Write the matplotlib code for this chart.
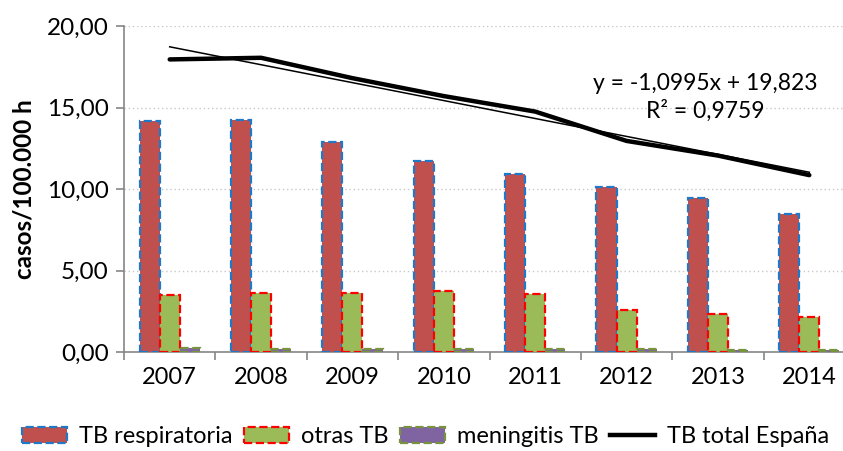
import matplotlib.pyplot as plt
import matplotlib.patches as mpatches
from matplotlib.lines import Line2D
import numpy as np

plt.rcParams['font.family'] = ['Lato', 'DejaVu Sans']

# Datos (casos/100.000 h)
anios = ['2007', '2008', '2009', '2010', '2011', '2012', '2013', '2014']
tb_respiratoria = [14.20, 14.25, 12.90, 11.70, 10.90, 10.10, 9.45, 8.45]
otras_tb = [3.50, 3.60, 3.65, 3.75, 3.55, 2.60, 2.35, 2.15]
meningitis_tb = [0.25, 0.18, 0.18, 0.18, 0.18, 0.18, 0.15, 0.15]
tb_total = [17.95, 18.05, 16.80, 15.70, 14.75, 12.95, 12.05, 10.85]

# Tendencia lineal mostrada en el gráfico (x = 1..8)
pendiente = -1.0995
intercepto = 19.823
r2 = 0.9759

x = np.arange(len(anios))
w = 0.22

fig = plt.figure(figsize=(8.43, 4.51), dpi=100)
ax = fig.add_axes([124 / 843, 99 / 451, 731 / 843, 326 / 451])

ax.bar(x - w, tb_respiratoria, w, color='#C0504D', edgecolor='#1F78C8',
       linestyle='--', linewidth=1.6, zorder=3)
ax.bar(x, otras_tb, w, color='#9BBB59', edgecolor='#FF0000',
       linestyle='--', linewidth=1.6, zorder=3)
ax.bar(x + w, meningitis_tb, w, color='#8064A2', edgecolor='#77933C',
       linestyle='--', linewidth=1.6, zorder=3)

ax.plot(x, tb_total, color='black', linewidth=3.2, solid_capstyle='round',
        solid_joinstyle='round', zorder=5)

xt = x + 1
ax.plot(x, pendiente * xt + intercepto, color='black', linewidth=1.1, zorder=6)

etiqueta = 'y = {:.4f}x + {:.3f}\nR² = {:.4f}'.format(pendiente, intercepto, r2).replace('.', ',')
ax.text(0.795, 0.78, etiqueta, transform=ax.transAxes, ha='center', va='center',
        fontsize=16.5, linespacing=1.33)

ax.set_xlim(-0.5, 7.5)
ax.set_ylim(0, 20)
ax.set_yticks([0, 5, 10, 15, 20])
ax.set_yticklabels([f'{v:.2f}'.replace('.', ',') for v in [0, 5, 10, 15, 20]])
ax.set_xticks(x)
ax.set_xticklabels(anios)
ax.set_xticks(np.arange(-0.5, 8.0, 1), minor=True)
ax.tick_params(axis='x', which='major', length=0, pad=11, labelsize=17)
ax.tick_params(axis='x', which='minor', length=6, color='#868686', width=1.2)
ax.tick_params(axis='y', length=6, color='#868686', width=1.2, labelsize=17.5, pad=5)

ax.grid(axis='y', linestyle=(0, (1, 2)), color='#C8C8C8', linewidth=1, zorder=0)
ax.set_axisbelow(True)
for s in ['top', 'right']:
    ax.spines[s].set_visible(False)
for s in ['left', 'bottom']:
    ax.spines[s].set_color('#868686')
    ax.spines[s].set_linewidth(1.2)

ax.set_ylabel('casos/100.000 h', fontsize=17.5, fontweight='bold', labelpad=8)

handles = [
    mpatches.Patch(facecolor='#C0504D', edgecolor='#1F78C8', linestyle='--', linewidth=1.6),
    mpatches.Patch(facecolor='#9BBB59', edgecolor='#FF0000', linestyle='--', linewidth=1.6),
    mpatches.Patch(facecolor='#8064A2', edgecolor='#77933C', linestyle='--', linewidth=1.6),
    Line2D([0], [0], color='black', linewidth=3.2),
]
fig.legend(handles, ['TB respiratoria', 'otras TB', 'meningitis TB', 'TB total España'],
           loc='center', bbox_to_anchor=(0.505, 0.032), ncol=4, frameon=False,
           fontsize=17, handlelength=1.9, handleheight=0.65, columnspacing=0.5,
           handletextpad=0.5)

fig.savefig('out.png', dpi=100)
